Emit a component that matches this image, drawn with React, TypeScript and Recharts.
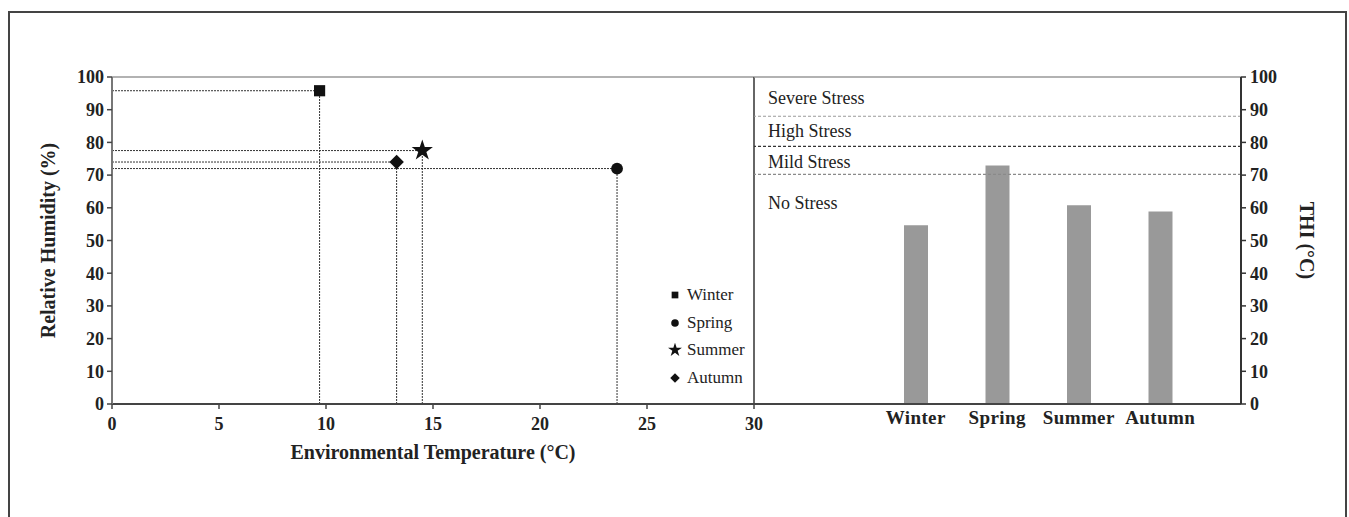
import React from 'react';
import {
  ScatterChart,
  Scatter,
  BarChart,
  Bar,
  XAxis,
  YAxis,
  ReferenceLine,
  Symbols
} from 'recharts';

const seasons = ['Winter', 'Spring', 'Summer', 'Autumn'];
const temperature = [9.7, 23.6, 14.5, 13.3];
const humidity = [95.8, 72, 77.5, 74];
const thi = [54.7, 72.9, 60.8, 58.9];
const markerTypes = ['square', 'circle', 'star', 'diamond'];

const stressLines = [88, 78.8, 70.2];
const stressLineColors = ['#9a9a9a', '#333333', '#8a8a8a'];
const stressLabels = ['Severe Stress', 'High Stress', 'Mild Stress', 'No Stress'];
const stressLabelLevels = [93.7, 83.6, 74.2, 61.6];

const tempTicks = [0, 5, 10, 15, 20, 25, 30];
const pctTicks = [0, 10, 20, 30, 40, 50, 60, 70, 80, 90, 100];

const serif = '"Liberation Serif", "Times New Roman", serif';
const markerSize = [125, 110, 140, 105];
const legendSize = [45, 45, 60, 45];

const barData = seasons.map((s, i) => ({ season: s, thi: thi[i] }));

const tickStyle = { fontSize: 18, fontWeight: 'bold', fill: '#222', fontFamily: serif };

const Marker = ({ cx, cy, i, size }: { cx: number; cy: number; i: number; size: number }) => {
  if (markerTypes[i] === 'diamond') {
    return (
      <g transform={`rotate(45 ${cx} ${cy})`}>
        <Symbols cx={cx} cy={cy} type="square" size={size} fill="#111" />
      </g>
    );
  }
  return <Symbols cx={cx} cy={cy} type={markerTypes[i] as any} size={size} fill="#111" />;
};

const axisTitle = (text: string, dx: number, dy: number, angle: number, vertical: boolean) =>
  (props: any) => {
    const vb = props.viewBox || {};
    const cx = vertical ? vb.x + dx : vb.x + vb.width / 2 + dx;
    const cy = vertical ? vb.y + vb.height / 2 + dy : vb.y + dy;
    return (
      <text
        x={cx}
        y={cy}
        transform={angle ? `rotate(${angle} ${cx} ${cy})` : undefined}
        textAnchor="middle"
        dominantBaseline="central"
        fontFamily={serif}
        fontWeight="bold"
        fontSize={20}
        fill="#222"
      >
        {text}
      </text>
    );
  };

const SeasonLegend = () => (
  <div style={{ position: 'absolute', left: 668, top: 281, fontFamily: serif, fontSize: 17, color: '#222' }}>
    {seasons.map((s, i) => (
      <div key={s} style={{ display: 'flex', alignItems: 'center', height: 27.7 }}>
        <svg width={14} height={14} style={{ marginRight: 5 }}>
          <Marker cx={7} cy={7} i={i} size={legendSize[i]} />
        </svg>
        <span>{s}</span>
      </div>
    ))}
  </div>
);

export default function App() {
  return (
    <div
      style={{
        position: 'fixed',
        left: 0,
        top: 0,
        width: 1349,
        height: 517,
        overflow: 'hidden',
        background: '#fff'
      }}
    >
      <div
        style={{
          position: 'absolute',
          left: 8,
          top: 11,
          width: 1339,
          height: 600,
          border: '2px solid #444',
          boxSizing: 'border-box'
        }}
      />
      <div style={{ position: 'absolute', left: 0, top: 0 }}>
        <ScatterChart width={770} height={490} margin={{ top: 77, right: 16, bottom: 56, left: 52 }}>
          <XAxis
            type="number"
            dataKey="x"
            domain={[0, 30]}
            ticks={tempTicks}
            interval={0}
            tick={tickStyle}
            tickSize={5}
            tickMargin={8}
            height={30}
            axisLine={{ stroke: '#444', strokeWidth: 2 }}
            tickLine={{ stroke: '#444', strokeWidth: 1.5 }}
            label={{ content: axisTitle('Environmental Temperature (°C)', 0, 48, 0, false) }}
          />
          <YAxis
            type="number"
            dataKey="y"
            domain={[0, 100]}
            ticks={pctTicks}
            interval={0}
            tick={tickStyle}
            tickSize={5}
            tickMargin={3}
            width={60}
            axisLine={{ stroke: '#777', strokeWidth: 2 }}
            tickLine={{ stroke: '#444', strokeWidth: 1.5 }}
            label={{ content: axisTitle('Relative Humidity (%)', -4, 0, -90, true) }}
          />
          <ReferenceLine y={100} stroke="#999" strokeWidth={1.5} />
          <ReferenceLine x={30} stroke="#333" strokeWidth={1.5} />
          {seasons.map((s, i) => (
            <ReferenceLine
              key={'h' + s}
              segment={[{ x: 0, y: humidity[i] }, { x: temperature[i], y: humidity[i] }]}
              stroke="#333"
              strokeDasharray="2 1"
            />
          ))}
          {seasons.map((s, i) => (
            <ReferenceLine
              key={'v' + s}
              segment={[{ x: temperature[i], y: 0 }, { x: temperature[i], y: humidity[i] }]}
              stroke="#333"
              strokeDasharray="2 1"
            />
          ))}
          {seasons.map((s, i) => (
            <Scatter
              key={s}
              name={s}
              data={[{ x: temperature[i], y: humidity[i] }]}
              fill="#111"
              isAnimationActive={false}
              shape={(p: any) => <Marker cx={p.cx} cy={p.cy} i={i} size={markerSize[i]} />}
            />
          ))}
        </ScatterChart>
      </div>
      <SeasonLegend />
      <div style={{ position: 'absolute', left: 754, top: 0 }}>
        <BarChart width={595} height={490} data={barData} margin={{ top: 77, right: 48, bottom: 56, left: 0 }}>
          <XAxis
            dataKey="season"
            type="category"
            padding={{ left: 121, right: 40 }}
            tick={{ ...tickStyle, fontSize: 19, letterSpacing: 0.4 }}
            tickLine={false}
            tickSize={0}
            tickMargin={7}
            height={30}
            axisLine={{ stroke: '#444', strokeWidth: 2 }}
          />
          <YAxis
            yAxisId="right"
            orientation="right"
            domain={[0, 100]}
            ticks={pctTicks}
            interval={0}
            tick={tickStyle}
            tickSize={5}
            tickMargin={4}
            width={60}
            axisLine={{ stroke: '#333', strokeWidth: 2 }}
            tickLine={{ stroke: '#333', strokeWidth: 1.5 }}
            label={{ content: axisTitle('THI (°C)', 66, 0, 90, true) }}
          />
          <ReferenceLine yAxisId="right" y={100} stroke="#999" strokeWidth={1.5} />
          {stressLines.map((v, i) => (
            <ReferenceLine
              key={'s' + i}
              yAxisId="right"
              y={v}
              stroke={stressLineColors[i]}
              strokeWidth={1.2}
              strokeDasharray="3 2"
            />
          ))}
          {stressLabels.map((t, i) => (
            <ReferenceLine
              key={t}
              yAxisId="right"
              y={stressLabelLevels[i]}
              stroke="none"
              label={{
                value: t,
                position: 'insideLeft',
                offset: 14,
                style: { fontFamily: serif, fontSize: 18, fill: '#222' }
              }}
            />
          ))}
          <Bar yAxisId="right" dataKey="thi" fill="#999" barSize={24} isAnimationActive={false} />
        </BarChart>
      </div>
    </div>
  );
}
